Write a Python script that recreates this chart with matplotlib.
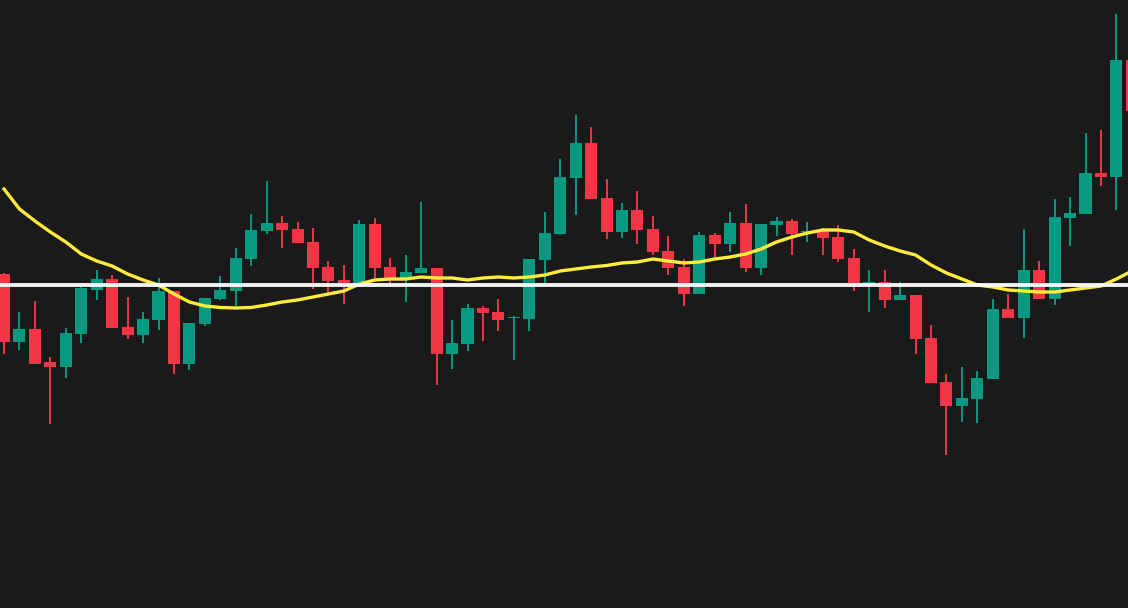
import matplotlib
matplotlib.use("Agg")
import matplotlib.pyplot as plt
import numpy as np

# Candle OHLC values (price units)
opens  = [334, 266, 279, 246, 241, 274, 318, 329, 281, 273, 288, 317, 244, 284, 309, 317, 349, 377, 385, 379,
          366, 341, 328, 323, 384, 341, 329, 335, 340, 254, 264, 300, 296, 290, 289, 348, 374, 430, 465, 410,
          376, 398, 379, 357, 341, 314, 373, 364, 385, 340, 383, 387, 376, 377, 371, 350, 324, 326, 308, 313,
          270, 226, 202, 209, 229, 299, 290, 338, 309, 390, 394, 435, 431, 548]
highs  = [335, 296, 307, 251, 280, 321, 338, 333, 311, 296, 330, 317, 285, 310, 332, 360, 394, 427, 392, 386,
          380, 347, 343, 388, 390, 350, 353, 406, 340, 288, 304, 302, 309, 292, 349, 396, 449, 493, 481, 429,
          405, 417, 392, 372, 349, 376, 375, 396, 404, 384, 391, 389, 386, 380, 383, 359, 338, 338, 326, 313,
          283, 234, 241, 237, 309, 314, 379, 347, 409, 411, 475, 478, 594, 548]
lows   = [254, 258, 244, 184, 230, 265, 308, 280, 269, 265, 278, 234, 238, 282, 308, 302, 342, 374, 360, 365,
          319, 314, 304, 323, 330, 325, 306, 335, 223, 239, 257, 267, 277, 248, 277, 325, 373, 393, 409, 369,
          370, 364, 353, 333, 302, 314, 348, 356, 336, 333, 372, 353, 366, 353, 346, 317, 296, 300, 308, 254,
          225, 153, 186, 185, 229, 290, 270, 309, 303, 362, 394, 422, 398, 493]
closes = [266, 279, 244, 241, 275, 320, 329, 280, 273, 289, 317, 244, 285, 310, 318, 350, 378, 385, 378, 365,
          340, 327, 323, 384, 340, 329, 336, 340, 254, 265, 300, 295, 288, 291, 349, 375, 431, 465, 409, 376,
          398, 378, 356, 340, 314, 373, 364, 385, 340, 384, 387, 374, 377, 370, 349, 325, 326, 308, 313, 269,
          225, 202, 210, 230, 299, 290, 338, 309, 391, 395, 435, 431, 548, 497]

# Moving average line values
ma_values = [419, 399, 387, 376, 366, 354, 347, 342, 334, 328,
             323, 314, 306, 302, 300.5, 300, 300.5, 303, 306, 308,
             311, 314, 317, 324, 328, 329, 329, 331, 330, 330,
             328, 330, 331, 330, 331, 333, 337, 339, 341, 342.5,
             345, 346, 349, 347, 345, 346, 349, 351, 354, 359,
             366, 371, 375, 378, 378, 376, 368, 362, 357, 353,
             343, 335, 329, 323, 321, 318, 317, 316, 316, 318,
             320, 322, 329, 337]

# Horizontal reference level
level = 323

BG = "#1a1a1a"
UP = "#089981"
DOWN = "#F23645"

o = np.array(opens, float)
h = np.array(highs, float)
l = np.array(lows, float)
c = np.array(closes, float)
x = np.arange(len(o))

fig = plt.figure(figsize=(11.28, 6.08), dpi=100, facecolor=BG)
ax = fig.add_axes([0, 0, 1, 1])
ax.set_facecolor(BG)

cols = [UP if cc >= oo else DOWN for oo, cc in zip(o, c)]
ax.vlines(x, l, h, colors=cols, linewidth=1.4, zorder=2)
body_bottom = np.minimum(o, c)
body_h = np.maximum(np.abs(c - o), 1.2)
ax.bar(x, body_h, bottom=body_bottom, width=0.78, color=cols, linewidth=0, zorder=3)

ax.plot(x, ma_values, color="#FFEB3B", linewidth=2.4, zorder=4, solid_joinstyle="round")
ax.axhline(level, color="white", linewidth=2.8, alpha=0.95, zorder=5)

ax.set_xlim(-0.26, 72.75)
ax.set_ylim(0, 608)
ax.axis("off")

fig.savefig("out.png", dpi=100, facecolor=BG)
